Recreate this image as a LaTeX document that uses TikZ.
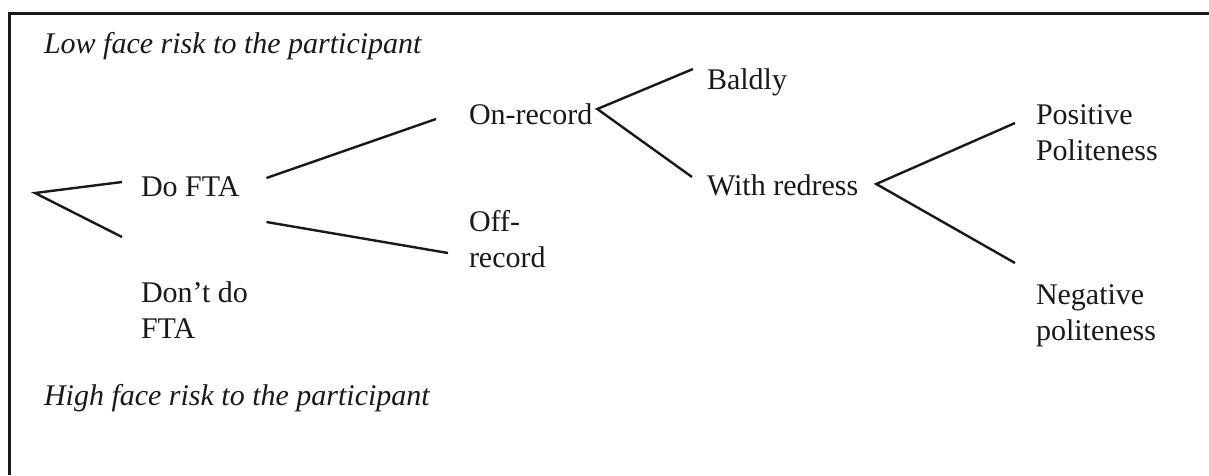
\documentclass[tikz,border=0pt]{standalone}
\usepackage{fontspec}
\setmainfont{Liberation Serif}
\begin{document}
\begin{tikzpicture}[x=1pt,y=-1pt,
  lbl/.style={anchor=base west,inner sep=0pt,outer sep=0pt,align=left,
    font=\fontsize{30}{35.5}\selectfont,text=black!90},
  risk/.style={lbl,font=\fontsize{30}{35.5}\selectfont\itshape},
  branch/.style={line width=2.4pt,black!90},
  frameline/.style={line width=3pt,black!90}]
\useasboundingbox (0,0) rectangle (1209,475);

% frame (top and left edges)
\draw[frameline] (9,475) -- (9,13) -- (1209,13);

% risk labels
\node[risk] (low)  at (44,53)  {Low face risk to the participant};
\node[risk] (high) at (44,405) {High face risk to the participant};

% decision labels (base anchor sits on the last line)
\node[lbl] (dofta)   at (141,196)  {Do FTA};
\node[lbl] (dontdo)  at (141,338)  {Don’t do\\FTA};
\node[lbl] (onrec)   at (469,124)  {On-record};
\node[lbl] (offrec)  at (469,267)  {Off-\\record};
\node[lbl] (baldly)  at (707,89)   {Baldly};
\node[lbl] (redress) at (707,195)  {With redress};
\node[lbl] (pos)     at (1036,160) {Positive\\Politeness};
\node[lbl] (neg)     at (1036,340) {Negative\\politeness};

% branch points
\coordinate (root) at (35,193);
\coordinate (onv)  at ([shift={(5,-15)}]onrec.base east);
\coordinate (rdv)  at ([shift={(18,-11)}]redress.base east);

% tree
\draw[branch] ([shift={(-19,-14)}]dofta.base west) -- (root)
              -- ([shift={(-19,-101)}]dontdo.base west);
\draw[branch] ([shift={(27,-18)}]dofta.base east) -- ([shift={(-33,-5)}]onrec.base west);
\draw[branch] ([shift={(27,26)}]dofta.base east) -- ([shift={(-21,-14)}]offrec.base west);
\draw[branch] ([shift={(-14,-20)}]baldly.base west) -- (onv)
              -- ([shift={(-15,-18)}]redress.base west);
\draw[branch] ([shift={(-21,-37)}]pos.base west) -- (rdv)
              -- ([shift={(-21,-77)}]neg.base west);
\end{tikzpicture}
\end{document}
